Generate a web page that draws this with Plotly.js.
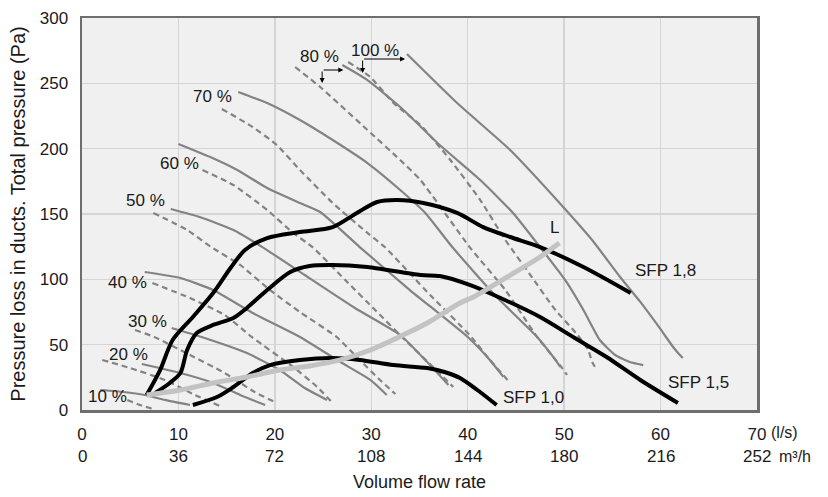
<!DOCTYPE html>
<html><head><meta charset="utf-8">
<script src="https://cdn.plot.ly/plotly-3.0.1.min.js"></script>
<style>html,body{margin:0;padding:0;background:#fff}#chart{width:828px;height:497px}</style>
</head><body><div id="chart"></div>
<script>
// Axis ticks
const flowLs = [0, 10, 20, 30, 40, 50, 60, 70];
const flowM3h = [0, 36, 72, 108, 144, 180, 216, 252];
const pressTicks = [0, 50, 100, 150, 200, 250, 300];

// Fan curves (solid / dashed) per fan speed
const p10s_x = [1.9, 4.3, 6.5, 8.6, 11.2];
const p10s_y = [15.3, 13.8, 11.5, 7.7, 3.8];
const p10d_x = [4.7, 6.0, 7.4];
const p10d_y = [7.7, 3.8, 0.8];
const p20s_x = [6.2, 10.2, 13.6, 16.4, 19.0];
const p20s_y = [35.2, 28.3, 20.7, 11.5, 3.8];
const p20d_x = [2.1, 5.0, 8.6, 11.7, 14.3];
const p20d_y = [38.3, 32.1, 23.0, 11.5, 3.1];
const p30s_x = [9.3, 12.4, 17.1, 20.5, 23.1, 25.4];
const p30s_y = [62.8, 55.9, 43.6, 30.6, 16.8, 7.7];
const p30d_x = [5.5, 7.5, 11.2, 14.8, 17.9, 20.2];
const p30d_y = [61.2, 55.9, 42.1, 28.3, 13.8, 5.4];
const p40s_x = [6.5, 10.2, 13.6, 17.7, 22.6, 26.8, 29.9, 31.6];
const p40s_y = [105.6, 101.0, 91.8, 74.2, 55.9, 36.7, 23.0, 11.5];
const p40d_x = [7.3, 11.2, 14.8, 17.6, 21.9, 24.4, 25.9];
const p40d_y = [97.2, 85.7, 72.7, 55.9, 32.9, 17.6, 6.1];
const p50s_x = [9.2, 12.2, 15.7, 18.7, 23.1, 28.3, 33.0, 35.8, 38.0];
const p50s_y = [153.8, 147.7, 137.8, 124.7, 103.3, 78.1, 57.4, 36.7, 19.1];
const p50d_x = [7.4, 10.9, 13.4, 16.4, 19.5, 22.6, 26.4, 28.8, 30.9, 32.5];
const p50d_y = [150.8, 137.8, 124.7, 111.0, 91.8, 75.0, 55.9, 38.3, 23.0, 12.2];
const p60s_x = [10.0, 13.3, 16.1, 19.2, 22.6, 24.7, 28.8, 34.0, 40.0, 42.3, 43.7];
const p60s_y = [203.6, 193.6, 183.7, 169.9, 158.4, 151.5, 124.7, 91.8, 55.9, 38.3, 25.3];
const p60d_x = [12.5, 15.7, 19.2, 21.9, 23.9, 27.3, 30.4, 33.5, 36.4, 38.5];
const p60d_y = [183.7, 172.2, 153.1, 135.5, 124.7, 99.5, 76.5, 53.6, 32.9, 17.6];
const p70s_x = [16.2, 19.2, 22.6, 26.0, 29.6, 33.0, 35.6, 38.4, 42.8, 47.2, 49.1, 49.6];
const p70s_y = [243.4, 234.9, 221.9, 206.6, 189.0, 168.4, 150.8, 124.7, 88.0, 55.9, 38.3, 32.9];
const p70d_x = [14.5, 17.7, 20.2, 22.6, 26.0, 29.6, 31.4, 36.1, 40.2, 42.3, 44.4];
const p70d_y = [230.4, 216.6, 202.8, 183.7, 158.4, 135.5, 124.7, 88.0, 57.4, 38.3, 20.7];
const p80s_x = [27.0, 29.6, 33.0, 37.1, 41.3, 44.7, 47.5, 50.1, 52.0, 53.7, 55.3, 56.8, 58.2];
const p80s_y = [264.0, 252.5, 231.9, 202.8, 176.0, 150.8, 124.7, 99.5, 76.5, 53.6, 42.1, 36.7, 34.4];
const p80d_x = [22.1, 24.7, 29.6, 33.0, 35.1, 40.2, 43.9, 47.2, 48.7, 49.8, 50.3];
const p80d_y = [262.5, 247.2, 214.3, 191.3, 176.0, 124.7, 91.8, 55.9, 42.1, 32.1, 26.8];
const p100s_x = [33.7, 38.9, 44.4, 49.9, 52.9, 55.8, 57.9, 59.9, 61.3, 62.0, 62.3];
const p100s_y = [272.4, 234.9, 199.0, 155.4, 130.1, 101.8, 82.7, 62.8, 48.2, 42.1, 39.8];
const p100d_x = [27.6, 29.9, 32.3, 35.1, 38.2, 41.3, 43.9, 46.5, 49.1, 51.4, 52.5, 52.9, 53.4];
const p100d_y = [266.3, 254.8, 234.9, 218.1, 191.3, 160.7, 130.1, 103.3, 76.5, 57.4, 45.9, 36.7, 30.6];

// SFP limit curves
const sfp18_x = [6.7, 8.1, 9.4, 11.5, 13.6, 15.4, 16.9, 19.2, 22.6, 26.0, 28.5, 30.6, 32.7, 35.4, 38.9, 41.6, 44.4, 47.5, 52.0, 56.9];
const sfp18_y = [11.5, 30.6, 53.6, 71.2, 89.5, 108.7, 122.4, 131.6, 136.2, 140.0, 150.8, 159.2, 160.7, 158.4, 150.8, 140.0, 132.4, 124.7, 109.4, 89.5];
const sfp15_x = [7.6, 9.1, 10.2, 10.9, 11.9, 13.6, 15.7, 17.1, 19.2, 21.6, 23.6, 26.0, 29.6, 35.1, 37.1, 40.2, 43.4, 47.5, 51.1, 54.4, 57.9, 61.8];
const sfp15_y = [13.0, 20.7, 28.3, 45.9, 58.9, 65.1, 70.4, 78.1, 91.8, 105.6, 110.2, 111.0, 109.4, 103.3, 102.5, 95.7, 85.7, 71.2, 55.1, 40.6, 23.0, 5.4];
const sfp10_x = [11.5, 14.0, 15.7, 17.7, 19.5, 22.6, 26.0, 28.8, 32.3, 35.8, 37.6, 39.2, 41.0, 43.0];
const sfp10_y = [3.8, 9.9, 17.6, 28.3, 34.4, 38.3, 39.8, 38.3, 34.4, 32.1, 29.1, 24.5, 15.3, 3.8];

// Duct curve L
const duct_x = [6.7, 10.2, 13.6, 17.1, 20.5, 23.6, 26.8, 29.9, 33.3, 35.8, 39.2, 40.6, 44.1, 47.5, 49.5];
const duct_y = [11.5, 15.3, 20.7, 25.3, 30.6, 33.7, 38.3, 45.9, 57.4, 66.6, 81.9, 86.5, 101.8, 117.1, 127.8];

const fanLabels = ['10 %', '20 %', '30 %', '40 %', '50 %', '60 %', '70 %', '80 %', '100 %'];
const sfpLabels = ['SFP 1,8', 'SFP 1,5', 'SFP 1,0', 'L'];

const FONT = '"Liberation Sans", Arial, sans-serif';
const GRAY = '#838383';

function fan(x, y, dashed) {
  return {type: 'scatter', mode: 'lines', x: x, y: y, hoverinfo: 'skip',
    line: {color: GRAY, width: 2.2, dash: dashed ? '6px,4px' : 'solid', shape: 'spline', smoothing: 0.5}};
}
function sfp(x, y) {
  return {type: 'scatter', mode: 'lines', x: x, y: y, hoverinfo: 'skip',
    line: {color: '#000', width: 4, shape: 'spline', smoothing: 0.8}};
}

const traces = [
  fan(p10s_x, p10s_y, false), fan(p10d_x, p10d_y, true),
  fan(p20s_x, p20s_y, false), fan(p20d_x, p20d_y, true),
  fan(p30s_x, p30s_y, false), fan(p30d_x, p30d_y, true),
  fan(p40s_x, p40s_y, false), fan(p40d_x, p40d_y, true),
  fan(p50s_x, p50s_y, false), fan(p50d_x, p50d_y, true),
  fan(p60s_x, p60s_y, false), fan(p60d_x, p60d_y, true),
  fan(p70s_x, p70s_y, false), fan(p70d_x, p70d_y, true),
  fan(p80s_x, p80s_y, false), fan(p80d_x, p80d_y, true),
  fan(p100s_x, p100s_y, false), fan(p100d_x, p100d_y, true),
  sfp(sfp18_x, sfp18_y), sfp(sfp15_x, sfp15_y), sfp(sfp10_x, sfp10_y),
  {type: 'scatter', mode: 'lines', x: duct_x, y: duct_y, hoverinfo: 'skip',
   line: {color: '#c3c3c3', width: 5, shape: 'spline', smoothing: 0.8}}
];

const annotations = [];
// m3/h tick row
flowM3h.forEach(function (v, i) {
  annotations.push({x: flowLs[i], xref: 'x', y: 0, yref: 'paper', yshift: -46, yanchor: 'middle',
    xanchor: 'center', text: String(v), showarrow: false, font: {size: 17}});
});
annotations.push({x: 1.0400, xref: 'paper', y: 0, yref: 'paper', yshift: -22, yanchor: 'middle',
  xanchor: 'center', text: '(l/s)', showarrow: false, font: {size: 16}});
annotations.push({x: 1.0563, xref: 'paper', y: 0, yref: 'paper', yshift: -46, yanchor: 'middle',
  xanchor: 'center', text: 'm³/h', showarrow: false, font: {size: 16}});

const fanLabelPos = [[2.6, 10.7], [4.8, 42.1], [6.8, 68.1], [4.7, 97.2], [6.6, 160.0], [10.1, 189.0], [13.5, 240.3], [24.6, 270.2], [30.4, 275.5]];
fanLabels.forEach(function (t, i) {
  annotations.push({x: fanLabelPos[i][0], y: fanLabelPos[i][1], xref: 'x', yref: 'y', text: t,
    xanchor: 'center', showarrow: false, font: {size: 17}});
});
const sfpLabelPos = [[60.5, 107.1], [63.9, 20.7], [46.8, 9.9], [49.0, 139.3]];
sfpLabels.forEach(function (t, i) {
  annotations.push({x: sfpLabelPos[i][0], y: sfpLabelPos[i][1], xref: 'x', yref: 'y', text: t,
    xanchor: 'center', showarrow: false, font: {size: 17}});
});
// pointer arrows for 80 % and 100 %
const arrows = [
  [24.9, 250.3, 24.9, 260.2], [27.1, 260.2, 24.9, 260.2],
  [29.1, 257.9, 29.1, 268.6], [33.5, 268.6, 29.1, 268.6]
];
arrows.forEach(function (a) {
  annotations.push({x: a[0], y: a[1], ax: a[2], ay: a[3], xref: 'x', yref: 'y', axref: 'x', ayref: 'y',
    text: '', showarrow: true, arrowhead: 2, arrowsize: 1, arrowwidth: 1, arrowcolor: '#000'});
});

const layout = {
  width: 828, height: 497,
  margin: {l: 82, r: 71, t: 18, b: 87},
  paper_bgcolor: '#ffffff', plot_bgcolor: '#f0f0f0',
  font: {family: FONT, size: 17, color: '#1a1a1a'},
  showlegend: false,
  xaxis: {range: [0, 70], tickvals: flowLs, ticktext: flowLs.map(String), ticks: '',
    tickfont: {size: 17},
    showgrid: true, gridcolor: '#d5d5d5', gridwidth: 1.5, zeroline: false,
    showline: true, linecolor: '#6e6e6e', linewidth: 2.5, mirror: true,
    ticklabelstandoff: 7, automargin: false, fixedrange: true,
    title: {text: 'Volume flow rate', font: {size: 18}, standoff: 33}},
  yaxis: {range: [0, 300], tickvals: pressTicks, ticks: '',
    tickfont: {size: 17},
    showgrid: true, gridcolor: '#d5d5d5', gridwidth: 1.5, zeroline: false,
    showline: true, linecolor: '#6e6e6e', linewidth: 2.5, mirror: true,
    ticklabelstandoff: 8, automargin: false, fixedrange: true,
    title: {text: 'Pressure loss in ducts. Total pressure (Pa)', font: {size: 20}, standoff: 9}},
  annotations: annotations
};

Plotly.newPlot('chart', traces, layout, {staticPlot: true, displayModeBar: false});
</script>
</body></html>
